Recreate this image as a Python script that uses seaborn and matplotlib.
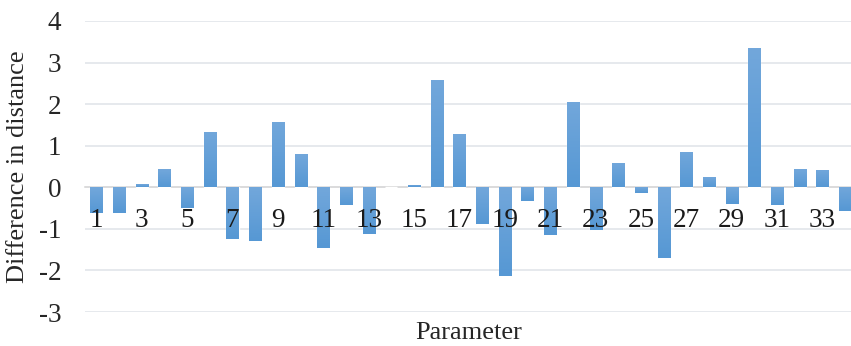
import numpy as np
import matplotlib.pyplot as plt
import matplotlib.colors as mcolors
import seaborn as sns

# valores
parametros = [str(i) for i in range(1, 35)]
diferenca = [-0.62, -0.62, 0.07, 0.43, -0.50, 1.34, -1.25, -1.29, 1.58, 0.79,
             -1.46, -0.43, -1.13, 0.0, 0.05, 2.57, 1.27, -0.89, -2.14, -0.34,
             -1.15, 2.06, -1.03, 0.58, -0.14, -1.70, 0.86, 0.24, -0.41, 3.34,
             -0.43, 0.43, 0.41, -0.58]
rotulos_x = [p if int(p) % 2 == 1 else '' for p in parametros]
ticks_y = [-3, -2, -1, 0, 1, 2, 3, 4]

sns.set_style('white')
plt.rcParams['font.family'] = ['Liberation Serif', 'DejaVu Serif']

fig = plt.figure(figsize=(8.51, 3.46), dpi=100)
ax = fig.add_axes([85 / 851, 1 - 312 / 346, 771.5 / 851, 291 / 346])

sns.barplot(x=parametros, y=diferenca, color='#5B9BD5', width=0.53,
            saturation=1, ax=ax, zorder=3)

# degradê leve nas barras (mais claro em cima)
cmap = mcolors.LinearSegmentedColormap.from_list('azul', ['#5698D4', '#72A7DB'])
grad = np.linspace(0, 1, 64).reshape(-1, 1)
for barra in ax.patches:
    x0, y0 = barra.get_x(), barra.get_y()
    w, h = barra.get_width(), barra.get_height()
    if h == 0:
        continue
    ylo, yhi = min(y0, y0 + h), max(y0, y0 + h)
    im = ax.imshow(grad, cmap=cmap, origin='lower', aspect='auto',
                   extent=[x0, x0 + w, ylo, yhi], zorder=4)
    im.set_clip_path(barra)

ax.set_xlim(-0.5, len(parametros) - 0.5)
ax.set_ylim(-3, 4)
ax.set_yticks(ticks_y)
ax.set_yticklabels([str(t) for t in ticks_y])
ax.set_xticks(range(len(parametros)))
ax.set_xticklabels(rotulos_x)

ax.yaxis.grid(True, color='#E2E5EA', linewidth=1.2, zorder=0)
ax.xaxis.grid(False)
for lado in ['top', 'right', 'left']:
    ax.spines[lado].set_visible(False)
ax.spines['bottom'].set_position(('data', 0))
ax.spines['bottom'].set_color('#D9D9D9')
ax.spines['bottom'].set_linewidth(1.2)
ax.spines['bottom'].set_zorder(2)
# rótulos do eixo x por cima das barras
ax.xaxis.set_zorder(6)

ax.tick_params(axis='x', length=0, pad=15, labelsize=19.5, labelcolor='#1a1a1a')
ax.tick_params(axis='y', length=0, pad=17, labelsize=19.5, labelcolor='#262626')

ax.set_ylabel('Difference in distance', fontsize=19, color='#262626')
ax.yaxis.label.set_va('center')
ax.yaxis.set_label_coords(-(85 - 18) / 771.5, 0.5)
ax.set_xlabel('')
fig.text(469 / 851, 1 - 333 / 346, 'Parameter', fontsize=19, color='#262626',
         ha='center', va='center')

fig.savefig('out.png', dpi=100)
